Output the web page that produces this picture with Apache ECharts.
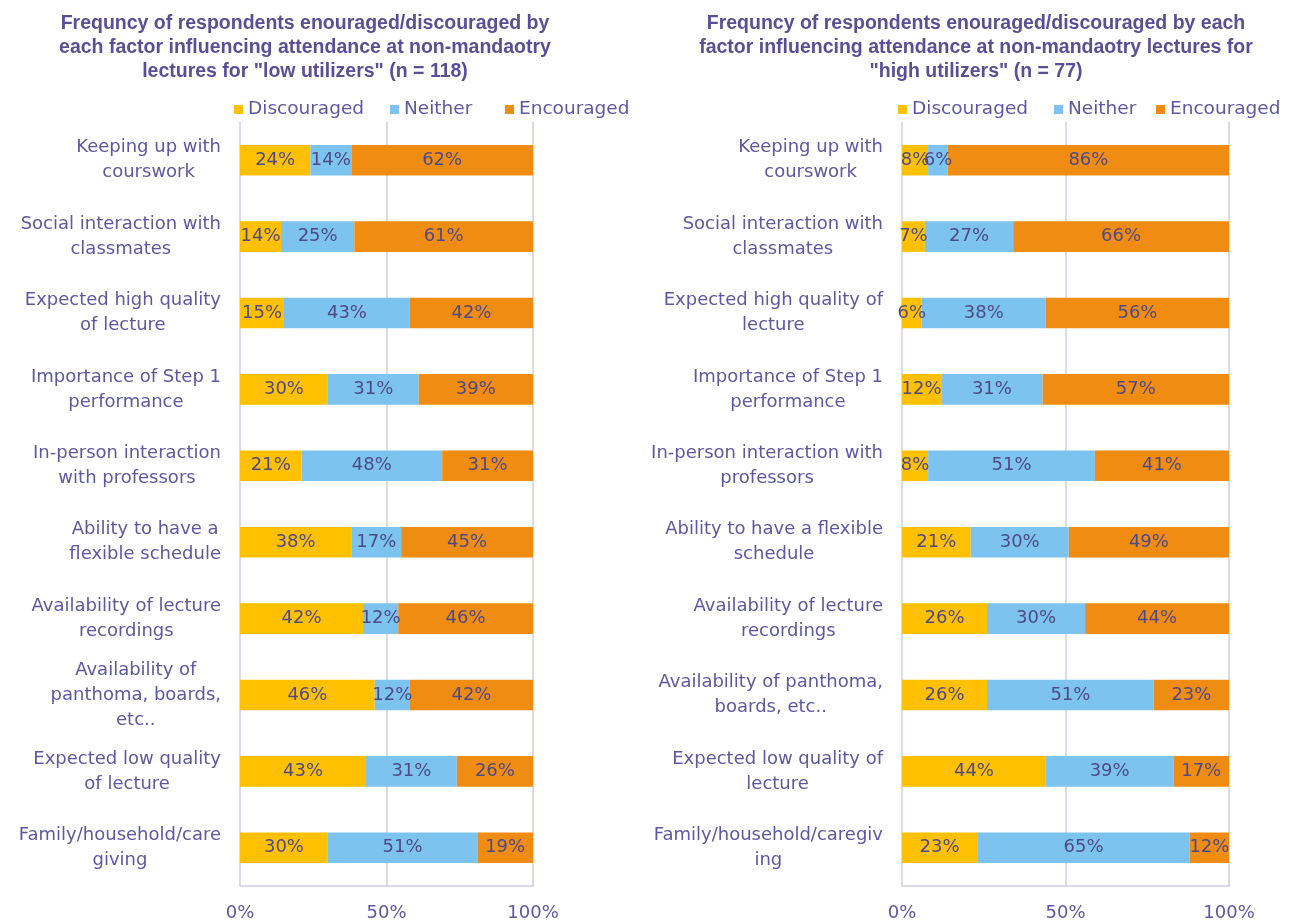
<!DOCTYPE html>
<html><head><meta charset="utf-8">
<script src="https://cdn.jsdelivr.net/npm/echarts@6/dist/echarts.min.js"></script>
<style>html,body{margin:0;padding:0;background:#fff}#c{width:1301px;height:924px}</style>
</head><body><div id="c"></div>
<script>
const seriesNames = ['Discouraged', 'Neither', 'Encouraged'];
const catsLow = [
  'Keeping up with\ncourswork',
  'Social interaction with\nclassmates',
  'Expected high quality\nof lecture',
  'Importance of Step 1\nperformance',
  'In-person interaction\nwith professors',
  'Ability to have a\nflexible schedule',
  'Availability of lecture\nrecordings',
  'Availability of\npanthoma, boards,\netc..',
  'Expected low quality\nof lecture',
  'Family/household/care\ngiving'
];
const catsHigh = [
  'Keeping up with\ncourswork',
  'Social interaction with\nclassmates',
  'Expected high quality of\nlecture',
  'Importance of Step 1\nperformance',
  'In-person interaction with\nprofessors',
  'Ability to have a flexible\nschedule',
  'Availability of lecture\nrecordings',
  'Availability of panthoma,\nboards, etc..',
  'Expected low quality of\nlecture',
  'Family/household/caregiv\ning'
];
const lowDiscouraged = [24, 14, 15, 30, 21, 38, 42, 46, 43, 30];
const lowNeither     = [14, 25, 43, 31, 48, 17, 12, 12, 31, 51];
const lowEncouraged  = [62, 61, 42, 39, 31, 45, 46, 42, 26, 19];
const highDiscouraged = [8, 7, 6, 12, 8, 21, 26, 26, 44, 23];
const highNeither     = [6, 27, 38, 31, 51, 30, 30, 51, 39, 65];
const highEncouraged  = [86, 66, 56, 57, 41, 49, 44, 23, 17, 12];
const xTicks = ['0%', '50%', '100%'];
const titleLow = 'Frequncy of respondents enouraged/discouraged by\neach factor influencing attendance at non-mandaotry\nlectures for "low utilizers" (n = 118)';
const titleHigh = 'Frequncy of respondents enouraged/discouraged by each\nfactor influencing attendance at non-mandaotry lectures for\n"high utilizers" (n = 77)';

const colors = ['#FFC000', '#7DC3F0', '#F08C12'];
const txt = '#5D58A0';
const lblColor = '#4F4A86';
const FONT = 'DejaVu Sans';

const chart = echarts.init(document.getElementById('c'));
function grid(left, width) { return {left: left, width: width, top: 122, height: 764}; }
function xAx(i) {
  return {type: 'value', gridIndex: i, min: 0, max: 100, interval: 50,
    axisLine: {show: true, lineStyle: {color: '#D0CDE6', width: 1.5}},
    axisTick: {show: false},
    splitLine: {show: true, lineStyle: {color: '#D0CDE6', width: 1.5}},
    axisLabel: {color: txt, fontFamily: FONT, fontSize: 18, margin: 18,
      formatter: v => xTicks[Math.round(v / 50)]}};
}
function yAx(i, cats) {
  return {type: 'category', gridIndex: i, data: cats, inverse: true,
    axisLine: {show: false}, axisTick: {show: false},
    axisLabel: {margin: 19, align: 'right', lineHeight: 25,
      formatter: v => v.split('\n').map(s => '{c|' + s + '}').join('\n'),
      rich: {c: {align: 'center', color: txt, fontFamily: FONT, fontSize: 18, lineHeight: 25}}}};
}
function ser(i, name, data, c) {
  return {type: 'bar', name: name, xAxisIndex: i, yAxisIndex: i, stack: 's' + i,
    data: data, barWidth: '40%', itemStyle: {color: c},
    label: {show: true, position: 'inside', color: lblColor, fontFamily: FONT, fontSize: 18,
      formatter: p => p.value + '%'}};
}
function leg(left, idx) {
  return {left: left, top: 100, padding: 0, icon: 'rect', itemWidth: 9, itemHeight: 9,
    textStyle: {color: txt, fontFamily: FONT, fontSize: 18.5},
    data: [seriesNames[idx]]};
}
const titleStyle = {color: '#5A4F96', fontFamily: 'Liberation Sans', fontWeight: 'bold', fontSize: 19.5, lineHeight: 24};
chart.setOption({
  animation: false,
  title: [
    {text: titleLow, left: 300, top: 7, textAlign: 'center', textStyle: titleStyle},
    {text: titleHigh, left: 971, top: 7, textAlign: 'center', textStyle: titleStyle}
  ],
  legend: [
    leg(234, 0), leg(390, 1), leg(505, 2),
    leg(898, 0), leg(1054, 1), leg(1156, 2)
  ],
  grid: [grid(240, 293), grid(902, 327)],
  xAxis: [xAx(0), xAx(1)],
  yAxis: [yAx(0, catsLow), yAx(1, catsHigh)],
  series: [
    ser(0, seriesNames[0], lowDiscouraged, colors[0]),
    ser(0, seriesNames[1], lowNeither, colors[1]),
    ser(0, seriesNames[2], lowEncouraged, colors[2]),
    ser(1, seriesNames[0], highDiscouraged, colors[0]),
    ser(1, seriesNames[1], highNeither, colors[1]),
    ser(1, seriesNames[2], highEncouraged, colors[2])
  ]
});
</script></body></html>
